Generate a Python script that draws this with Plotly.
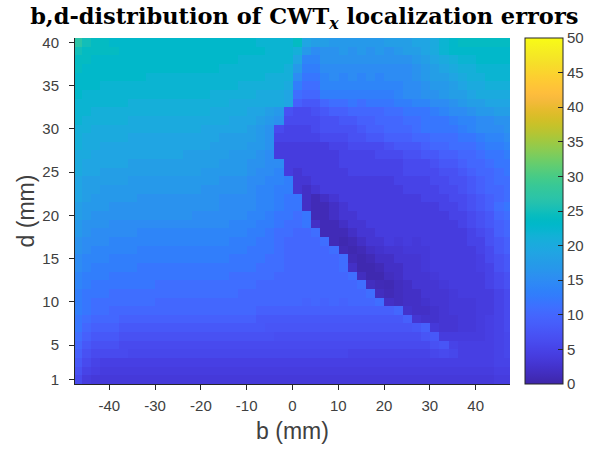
import plotly.graph_objects as go

# b positions (mm), cell centres
b_vals = [-47,-45,-43,-41,-39,-37,-35,-33,-31,-29,-27,-25,-23,-21,-19,-17,-15,-13,-11,-9,-7,-5,-3,-1,
          1,3,5,7,9,11,13,15,17,19,21,23,25,27,29,31,33,35,37,39,41,43,45,47]

# d positions (mm), top row first
d_vals = [40,39,38,37,36,35,34,33,32,31,30,29,28,27,26,25,24,23,22,21,
          20,19,18,17,16,15,14,13,12,11,10,9,8,7,6,5,4,3,2,1]

# localization error (mm), one row per d value above
err_rows = [
 [27,25,24,24,23,23,23,23,23,23,23,23,23,23,23,23,23,23,23,23,22,22,22,22, 24,19,18,18,17,17,17,17,17,17,18,18,18,19,19,20,22,23,24,24,24,24,24,24],
 [25,24,24,24,24,23,23,23,23,23,23,23,23,23,23,23,23,23,23,23,23,22,22,22, 21,17,15,16,16,17,16,17,16,17,16,17,18,18,19,20,22,23,23,23,23,23,23,23],
 [24,24,23,23,23,23,23,23,23,23,23,23,23,23,23,23,23,23,22,22,22,22,22,22, 19,14,14,16,16,16,16,16,16,16,16,16,16,17,18,19,20,21,22,22,23,23,23,23],
 [24,23,23,23,23,23,23,23,23,23,23,23,23,23,23,23,22,22,22,22,22,22,22,21, 17,13,13,15,15,15,15,15,15,15,15,15,15,16,17,18,19,20,21,21,22,22,22,22],
 [23,23,23,23,23,23,23,23,22,22,22,22,22,22,22,22,22,22,22,22,22,21,21,21, 15,12,12,14,15,14,15,14,15,14,15,15,15,16,17,18,18,19,20,21,21,22,22,22],
 [23,23,23,22,22,22,22,22,22,22,22,22,22,22,22,22,22,22,21,21,21,21,21,20, 13,11,11,14,14,14,14,14,14,14,14,14,15,15,16,17,17,18,19,20,20,21,21,21],
 [23,22,22,22,22,22,22,22,22,22,22,22,22,22,22,21,21,21,21,21,20,20,20,19, 11,10,10,13,13,13,13,13,13,13,13,14,15,15,16,16,17,18,18,19,20,20,20,20],
 [22,22,22,22,22,22,21,21,21,21,21,21,21,21,21,21,21,20,20,20,20,20,20,19, 9,8,8,10,11,11,12,11,12,12,12,13,13,14,14,15,15,16,17,18,18,19,19,19],
 [22,22,21,21,21,21,21,21,21,21,21,21,21,21,21,20,20,20,20,19,19,18,17,7, 6,6,7,8,9,9,10,10,10,10,11,11,12,12,12,13,14,15,15,16,17,17,18,18],
 [22,21,21,21,21,21,20,20,20,20,20,20,20,20,20,20,20,19,19,19,18,17,16,6, 6,6,6,7,7,8,8,9,9,10,10,10,11,11,12,12,12,13,14,14,15,15,16,16],
 [21,21,20,20,20,20,20,20,20,20,20,20,20,20,19,19,19,19,19,18,17,16,6,5, 5,5,6,7,7,7,7,8,9,9,10,10,10,11,12,12,12,12,13,14,15,15,15,16],
 [21,20,20,20,20,20,19,19,19,19,19,19,19,19,19,19,18,18,18,18,17,16,5,5, 5,5,5,6,6,6,7,7,8,8,9,9,9,10,10,11,11,11,12,12,13,14,14,15],
 [21,20,20,19,19,19,19,19,19,19,19,19,19,19,19,18,18,18,18,17,17,16,4,4, 4,4,4,4,5,5,6,6,6,6,7,8,8,8,9,10,10,11,11,11,12,13,13,14],
 [20,20,19,19,19,19,19,19,19,19,19,19,18,18,18,18,18,17,17,17,16,15,4,4, 4,4,4,4,4,5,5,5,5,6,6,6,7,7,8,8,9,9,10,10,11,12,12,13],
 [20,19,19,19,19,19,18,18,18,18,18,18,18,18,18,18,17,17,17,16,16,15,15,4, 4,4,4,4,4,5,5,5,5,5,5,5,6,6,6,7,8,8,9,10,10,11,12,12],
 [20,19,19,18,18,18,18,18,18,18,18,18,18,18,17,17,17,17,17,16,15,15,14,4, 3,4,4,4,4,4,5,5,5,5,5,5,6,6,6,6,7,7,8,9,10,10,11,12],
 [19,18,18,18,18,18,17,17,17,17,17,17,17,17,17,17,16,16,16,15,15,14,14,13, 3,3,4,4,4,4,4,4,4,4,4,5,5,5,5,6,6,7,7,8,9,10,11,11],
 [19,18,18,17,17,17,17,17,17,17,17,17,17,17,16,16,16,16,16,15,14,14,13,13, 3,2,3,4,4,4,4,4,4,4,4,4,5,5,5,5,6,6,7,8,9,10,10,11],
 [19,18,17,17,17,17,17,16,16,16,16,16,16,16,16,16,15,15,15,15,14,14,13,12, 12,2,1,2,3,4,4,4,4,4,4,4,4,4,5,5,5,6,6,7,8,9,10,11],
 [18,17,17,17,16,16,16,16,16,16,16,16,16,16,16,16,15,15,15,15,14,14,13,12, 12,2,1,1,2,3,4,4,4,4,4,4,4,4,4,4,5,5,6,7,8,9,11,12],
 [18,17,16,16,16,16,16,16,16,16,16,16,16,15,15,15,15,15,15,14,14,13,12,12, 11,12,1,1,2,3,3,4,4,4,4,4,4,4,4,4,4,5,5,6,7,8,10,11],
 [17,16,16,16,15,15,15,15,15,15,15,15,15,15,15,15,15,14,14,14,13,13,12,11, 11,12,2,1,1,2,3,3,4,4,4,4,4,4,4,4,4,4,5,6,7,8,9,10],
 [17,16,15,15,15,15,15,14,14,14,14,14,14,14,14,14,14,14,14,13,13,12,11,11, 10,10,11,1,1,1,2,3,3,4,4,4,4,4,4,4,4,4,4,5,6,7,9,10],
 [16,15,15,15,14,14,14,14,14,14,14,14,14,14,14,14,14,13,13,13,12,12,11,10, 10,10,10,11,1,0.5,1,2,3,3,4,3.5,4,3.5,4,4,4,4,4,5,5,7,8,9],
 [16,15,14,14,14,14,14,13,13,13,13,13,13,13,13,13,13,13,13,12,12,12,11,10, 10,10,10,10,11,1,0.5,1,2,2.5,3,3,3.5,3.5,3.5,4,4,4,4,4,5,6,8,9],
 [15,14,14,14,13,13,13,13,13,13,13,13,13,13,13,13,13,12,12,12,12,11,11,10, 10,10,10,10,10,11,1,0.5,1,2,2,3,3,3,3.5,4,4,4,4,4,4.5,6,7,8],
 [15,14,13,13,13,13,13,12,12,12,12,12,12,12,12,12,12,12,12,12,11,11,11,10, 10,10,10,10,10,11,2,0.5,0.5,1,2,2,3,3,3.5,4,4,4,4,4,4.5,5,7,8],
 [14,13,13,13,12,12,12,12,12,12,12,12,12,12,12,12,12,11,11,11,11,11,10,10, 10,10,10,10,10,10,11,1.5,0.5,0.5,1.5,2,3,3,3,3.5,4,4,4,4,4,5,6,7],
 [14,13,12,12,12,12,12,12,12,11,11,11,11,11,11,11,11,11,11,11,10,10,10,10, 10,10,10,10,10,10,10,11,1.5,1,0.8,1.5,2,3,3,3,3.5,4,4,4,4,5,6,7],
 [13,12,12,12,11,11,11,11,11,11,11,11,11,11,11,11,11,11,10,10,10,10,10,10, 10,10,10,10,10,10,10,10,11,1.5,1,1.5,2,2,3,3,3,3.5,4,4,4,4,5,6],
 [13,12,11,11,11,11,11,11,11,10,10,10,10,10,10,10,10,10,10,10,10,10,10,10, 10,9.5,10,9.5,10,9.5,10,10,10,11,2,1.5,2,2,2.5,3,3,3.5,3.5,3.5,4,4,5,6],
 [13,12,11,11,10,10,10,10,10,10,10,10,10,10,10,10,10,10,10,10,9,9,9,9, 9,9,9,9,9,9,9,9,9,9,9,10,2.5,2,2,2.5,3,3.5,3.5,3.5,4,4,5,6],
 [12,11,10,10,10,9,9,9,9,9,9,9,9,9,9,9,9,9,9,9,8,8,8,8, 8,8,8,8,8,8,8,8,8,8,8,8,9,3,2.5,2.5,3,3,3.5,3.5,4,4.5,5,6],
 [12,10,9,9,9,8,8,8,8,8,8,8,8,8,8,8,8,8,8,8,8,7.5,7.5,7.5, 7.5,7.5,7.5,7.5,7.5,7.5,7.5,7.5,7.5,7.5,7.5,7.5,7.5,8,9,3.5,3,3,3.5,3.5,4,4.5,5,6],
 [11,9,8,8,8,7,7,7,7,7,7,7,7,7,7,7,7,7,7,7,7,7,6.5,6.5, 6.5,6.5,6.5,6.5,6.5,6.5,6.5,6.5,6.5,6.5,6.5,6.5,6.5,6.5,7.5,8,4,4,4,4,4,4.5,5,5.5],
 [10,8,7,7,7,6,6,6,6,6,6,6,6,6,6,6,6,6,6,6,6,6,6,6, 6,6,6,6,6,6,6,6,6,6,6,6,6,6,6,7,7.5,5,4.5,4.5,4.5,4.5,5,5.5],
 [9,7,6,6,6,6,5.5,5.5,5.5,5.5,5.5,5.5,5.5,5.5,5.5,5.5,5.5,5.5,5.5,5.5,5.5,5.5,5.5,5.5, 5.5,5.5,5.5,5.5,5.5,5.5,5,5,5,5,5,5,5,5,5,5.5,6,5.5,4.5,4.5,4.5,4.5,5,5.5],
 [8,6,5,4.5,4.5,4.5,4.5,4.5,4.5,4.5,4.5,4.5,4.5,4.5,4.5,4.5,4.5,4.5,4.5,4.5,4.5,4.5,4.5,4.5, 4.5,4.5,4.5,4.5,4.5,4.5,4.5,4.5,4.5,4.5,4.5,4.5,4.5,4.5,4.5,4.5,4.5,4.5,4.5,4.5,4.5,4.5,5,5],
 [7,5,4.5,4,4,4,4,4,4,4,4,4,4,4,4,4,4,4,4,4,4,4,4,4, 4,4,4,4,4,4,4,4,4,4,4,4,4,4,4,4,4,4,4,4,4,4,4.5,4.5],
 [6,4,3.5,3.5,3.5,3.5,3.5,3.5,3.5,3.5,3.5,3.5,3.5,3.5,3.5,3.5,3.5,3.5,3.5,3.5,3.5,3.5,3.5,3.5, 3.5,3.5,3.5,3.5,3.5,3.5,3.5,3.5,3.5,3.5,3.5,3.5,3.5,3.5,3.5,3.5,3.5,3.5,3.5,3.5,3.5,3.5,4,4],
]

cbar_ticks = [0, 5, 10, 15, 20, 25, 30, 35, 40, 45, 50]
x_ticks = [-40, -30, -20, -10, 0, 10, 20, 30, 40]
x_tick_text = ["-40", "-30", "-20", "-10", "0", "10", "20", "30", "40"]
y_ticks = [1, 5, 10, 15, 20, 25, 30, 35, 40]

for r in err_rows:
    assert len(r) == len(b_vals), len(r)
assert len(err_rows) == len(d_vals)

# MATLAB parula(64)
parula = [
 (0.2422,0.1504,0.6603),(0.2504,0.1650,0.7076),(0.2578,0.1818,0.7511),(0.2647,0.1978,0.7952),
 (0.2706,0.2147,0.8364),(0.2751,0.2342,0.8710),(0.2783,0.2559,0.8991),(0.2803,0.2782,0.9221),
 (0.2813,0.3006,0.9414),(0.2810,0.3228,0.9579),(0.2795,0.3447,0.9717),(0.2760,0.3667,0.9829),
 (0.2699,0.3892,0.9906),(0.2602,0.4123,0.9952),(0.2440,0.4358,0.9988),(0.2206,0.4603,0.9973),
 (0.1963,0.4847,0.9892),(0.1834,0.5074,0.9798),(0.1786,0.5289,0.9682),(0.1764,0.5499,0.9520),
 (0.1687,0.5703,0.9359),(0.1540,0.5902,0.9218),(0.1460,0.6091,0.9079),(0.1380,0.6276,0.8973),
 (0.1248,0.6459,0.8883),(0.1113,0.6635,0.8763),(0.0952,0.6798,0.8598),(0.0689,0.6948,0.8394),
 (0.0297,0.7082,0.8163),(0.0036,0.7203,0.7917),(0.0067,0.7312,0.7660),(0.0433,0.7411,0.7394),
 (0.0964,0.7500,0.7120),(0.1408,0.7584,0.6842),(0.1717,0.7670,0.6554),(0.1938,0.7758,0.6251),
 (0.2161,0.7843,0.5923),(0.2470,0.7918,0.5567),(0.2906,0.7973,0.5188),(0.3406,0.8008,0.4789),
 (0.3909,0.8029,0.4354),(0.4456,0.8024,0.3909),(0.5044,0.7993,0.3480),(0.5616,0.7942,0.3045),
 (0.6174,0.7876,0.2612),(0.6720,0.7793,0.2227),(0.7242,0.7698,0.1910),(0.7738,0.7598,0.1646),
 (0.8203,0.7498,0.1535),(0.8634,0.7406,0.1596),(0.9035,0.7330,0.1774),(0.9393,0.7288,0.2100),
 (0.9728,0.7298,0.2394),(0.9956,0.7434,0.2371),(0.9970,0.7659,0.2199),(0.9952,0.7893,0.2028),
 (0.9892,0.8136,0.1885),(0.9786,0.8386,0.1766),(0.9676,0.8639,0.1643),(0.9610,0.8890,0.1537),
 (0.9597,0.9135,0.1423),(0.9628,0.9373,0.1265),(0.9691,0.9606,0.1064),(0.9769,0.9839,0.0805),
]
n = len(parula)
colorscale = [[i / (n - 1), "rgb(%d,%d,%d)" % tuple(round(c * 255) for c in p)]
              for i, p in enumerate(parula)]

axis_col = "#262626"
sans = "Liberation Sans, Arial, sans-serif"
tick_font = dict(family=sans, size=15, color="#404040")
label_font = dict(family=sans, size=23, color="#404040")

fig = go.Figure(go.Heatmap(
    x=b_vals, y=d_vals, z=err_rows,
    zmin=0, zmax=50, colorscale=colorscale,
    colorbar=dict(
        x=1.0345, xanchor="left", xpad=0, y=0.5, yanchor="middle", ypad=0,
        len=1, lenmode="fraction", thickness=38, thicknessmode="pixels",
        outlinecolor=axis_col, outlinewidth=1,
        tickvals=cbar_ticks, ticks="inside", ticklen=5, tickcolor=axis_col,
        tickfont=tick_font,
    ),
))

fig.update_layout(
    width=592, height=450,
    margin=dict(l=75, r=82, t=38, b=66, autoexpand=False),
    paper_bgcolor="white", plot_bgcolor="white",
    title=dict(
        text="<b>b,d-distribution of CWT<sub><i>x</i></sub> localization errors</b>",
        font=dict(family="DejaVu Serif, Liberation Serif, serif", size=22.5, color="black"),
        x=0.514, xanchor="center", xref="container",
        y=1 - 16 / 450, yanchor="middle", yref="container",
    ),
    xaxis=dict(
        range=[-47.5, 47.5], tickvals=x_ticks, ticktext=x_tick_text,
        ticks="outside", ticklen=5, tickcolor=axis_col, automargin=False,
        showline=True, linecolor=axis_col, linewidth=1,
        showgrid=False, zeroline=False, tickfont=tick_font, ticklabelstandoff=3,
        title=dict(text="b (mm)", font=label_font, standoff=9),
    ),
    yaxis=dict(
        range=[0.5, 40.5], tickvals=y_ticks, ticks="outside", ticklen=5,
        tickcolor=axis_col, showline=True, linecolor=axis_col, linewidth=1, automargin=False,
        showgrid=False, zeroline=False, tickfont=tick_font, ticklabelstandoff=7,
        title=dict(text="d (mm)", font=label_font, standoff=1),
    ),
)

fig.write_html("out.html", config={"displayModeBar": False},
               post_script="document.body.style.margin='0';document.body.style.overflow='hidden';")
